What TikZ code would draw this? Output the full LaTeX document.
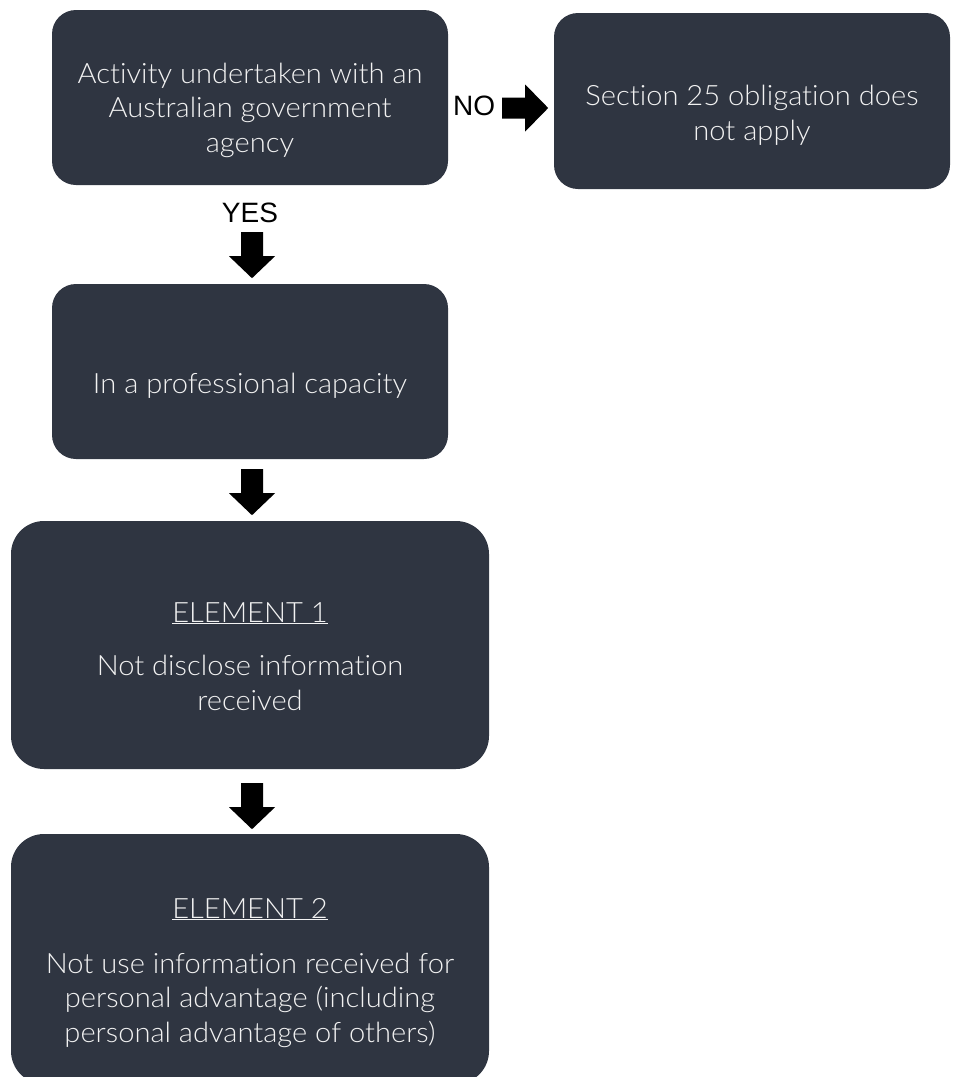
\documentclass[tikz,border=0pt]{standalone}
\usepackage{fontspec}
\setmainfont{Lato Light}[RawFeature=-liga, FakeStretch=1.04]
\newfontfamily\labelfont{Liberation Sans}
\usetikzlibrary{calc}
\definecolor{boxfill}{RGB}{47,53,65}
\definecolor{boxtextcol}{RGB}{242,242,242}
\begin{document}
\begin{tikzpicture}[x=1pt,y=-1pt,
  box/.style={fill=boxfill, rounded corners=24pt, inner sep=0pt, minimum width=396pt, minimum height=175pt},
  bigbox/.style={fill=boxfill, rounded corners=33pt, inner sep=0pt, minimum width=478pt, minimum height=249pt},
  boxtext/.style={text=boxtextcol, font=\fontsize{28}{34.5}\selectfont, align=center, anchor=base, inner sep=0pt},
  lbl/.style={font=\labelfont\fontsize{28}{30}\selectfont, inner sep=0pt, anchor=base},
  darrow/.pic={\fill[black] (-11,0) -- (11,0) -- (11,24) -- (23,24) -- (0,46) -- (-23,24) -- (-11,24) -- cycle;},
  rarrow/.pic={\fill[black] (0,-10.5) -- (23,-10.5) -- (23,-23.5) -- (46,0) -- (23,23.5) -- (23,10.5) -- (0,10.5) -- cycle;}
]
\useasboundingbox (0,0) rectangle (953,1077);
\clip (0,0) rectangle (953,1077);

% boxes
\node[box] (b1) at (250,97.5) {};
\node[box, minimum height=176pt] (b2) at (752,101) {};
\node[box] (b3) at (250,371.5) {};
\node[bigbox, minimum height=248pt] (b4) at (250,645) {};
\node[bigbox, minimum height=250pt] (b5) at (250,959) {};

% texts (base anchor = baseline of the last line)
\node[boxtext] (t1) at (250,152) {Activity undertaken with an\\Australian government\\agency};
\node[boxtext] (t2) at (752,140) {Section 25 obligation does\\not apply};
\node[boxtext] (t3) at (250,393) {In a professional capacity};
\node[boxtext] (t4a) at (250,622) {\underline{ELEMENT 1}};
\node[boxtext] (t4b) at (250,710) {Not disclose information\\received};
\node[boxtext] (t5a) at (250,918) {\underline{ELEMENT 2}};
\node[boxtext] (t5b) at (250,1042) {Not use information received for\\personal advantage (including\\personal advantage of others)};

% labels
\node[lbl] (yes) at (250,222) {YES};
\node[lbl, anchor=base west] (no) at (453,115) {NO};

% block arrows
\pic at ($(b1.south)+(2,47)$) {darrow};
\pic at ($(b3.south)+(2,10)$) {darrow};
\pic at ($(b4.south)+(2,14)$) {darrow};
\pic at ($(b1.east)+(54,10.5)$) {rarrow};
\end{tikzpicture}
\end{document}
